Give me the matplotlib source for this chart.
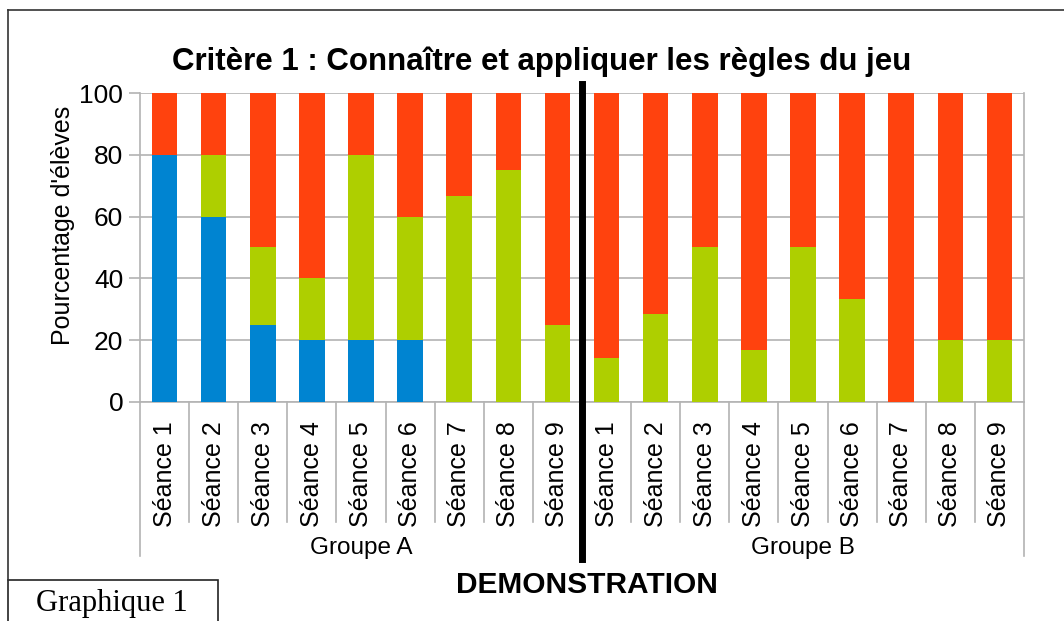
import numpy as np
import matplotlib.pyplot as plt
from matplotlib.patches import Rectangle
from matplotlib.lines import Line2D

plt.rcParams['font.family'] = ['Liberation Sans', 'DejaVu Sans']

seances = ['Séance %d' % i for i in range(1, 10)] * 2
groups = ['Groupe A', 'Groupe B']

# percentages per session (bottom -> top)
blue = [80, 60, 25, 20, 20, 20, 0, 0, 0,
        0, 0, 0, 0, 0, 0, 0, 0, 0]
green = [0, 20, 25, 20, 60, 40, 66.7, 75, 25,
         14.3, 28.6, 50, 16.7, 50, 33.3, 0, 20, 20]
red = [20, 20, 50, 60, 20, 40, 33.3, 25, 75,
       85.7, 71.4, 50, 83.3, 50, 66.7, 100, 80, 80]

c_blue = '#0084d1'
c_green = '#aecf00'
c_red = '#ff420e'
grey = '#b3b3b3'

fig = plt.figure(figsize=(10.64, 6.21), dpi=100)
ax = fig.add_axes([0.1316, 0.3527, 0.8308, 0.4975])

x = np.arange(len(seances))
blue = np.array(blue)
green = np.array(green)
red = np.array(red)
w = 0.52
ax.bar(x, blue, w, color=c_blue, zorder=3)
ax.bar(x, green, w, bottom=blue, color=c_green, zorder=3)
ax.bar(x, red, w, bottom=blue + green, color=c_red, zorder=3)

ax.set_xlim(-0.5, len(seances) - 0.5)
ax.set_ylim(0, 100)
ax.set_yticks(range(0, 101, 20))
ax.tick_params(axis='y', labelsize=19, length=8, color=grey, width=1.2, pad=4)
ax.yaxis.grid(True, color=grey, linewidth=1.2, zorder=0)

ax.set_xticks(x)
ax.set_xticklabels(seances, rotation=90, fontsize=18, va='top')
ax.tick_params(axis='x', length=0, pad=14)

ax.spines['top'].set_visible(False)
for s in ['left', 'bottom', 'right']:
    ax.spines[s].set_color(grey)
    ax.spines[s].set_linewidth(1.2)

# category separators below the axis
trans = ax.get_xaxis_transform()
for i in range(len(seances) + 1):
    xs = i - 0.5
    y1 = -0.50 if i in (0, 9, 18) else -0.39
    ax.add_line(Line2D([xs, xs], [0, y1], transform=trans, color=grey,
                       linewidth=1.2, clip_on=False))

ax.text(4, -0.472, groups[0], transform=trans, ha='center', va='center', fontsize=17.5)
ax.text(13, -0.472, groups[1], transform=trans, ha='center', va='center', fontsize=17.5)

# thick separator between the groups
ax.add_line(Line2D([8.5, 8.5], [1.03, -0.508], transform=trans, color='black',
                   linewidth=5, clip_on=False, zorder=5))

ax.set_ylabel("Pourcentage d'élèves", fontsize=18)
ax.yaxis.set_label_coords(-0.0735, 0.57)

fig.text(0.509, 0.900, 'Critère 1 : Connaître et appliquer les règles du jeu',
         ha='center', va='center', fontsize=22.5, fontweight='bold')
fig.text(0.5517, 0.058, 'DEMONSTRATION', ha='center', va='center',
         fontsize=21.5, fontweight='bold')

# frame and caption box
fig.add_artist(Line2D([8 / 1064, 8 / 1064], [1 - 10 / 621, 1 - 580 / 621],
                      transform=fig.transFigure, color='#333333', linewidth=1.2))
fig.add_artist(Line2D([8 / 1064, 1], [1 - 10 / 621, 1 - 10 / 621],
                      transform=fig.transFigure, color='#333333', linewidth=1.2))
fig.add_artist(Rectangle((8 / 1064, -0.01), 210 / 1064, 0.01 + 41 / 621,
                         transform=fig.transFigure, fill=False,
                         edgecolor='#222222', linewidth=1.2))
fig.text(112 / 1064, 1 - 604 / 621, 'Graphique 1', ha='center', va='center',
         fontsize=22, family=['Liberation Serif', 'DejaVu Serif'])

fig.savefig('out.png', dpi=100)
